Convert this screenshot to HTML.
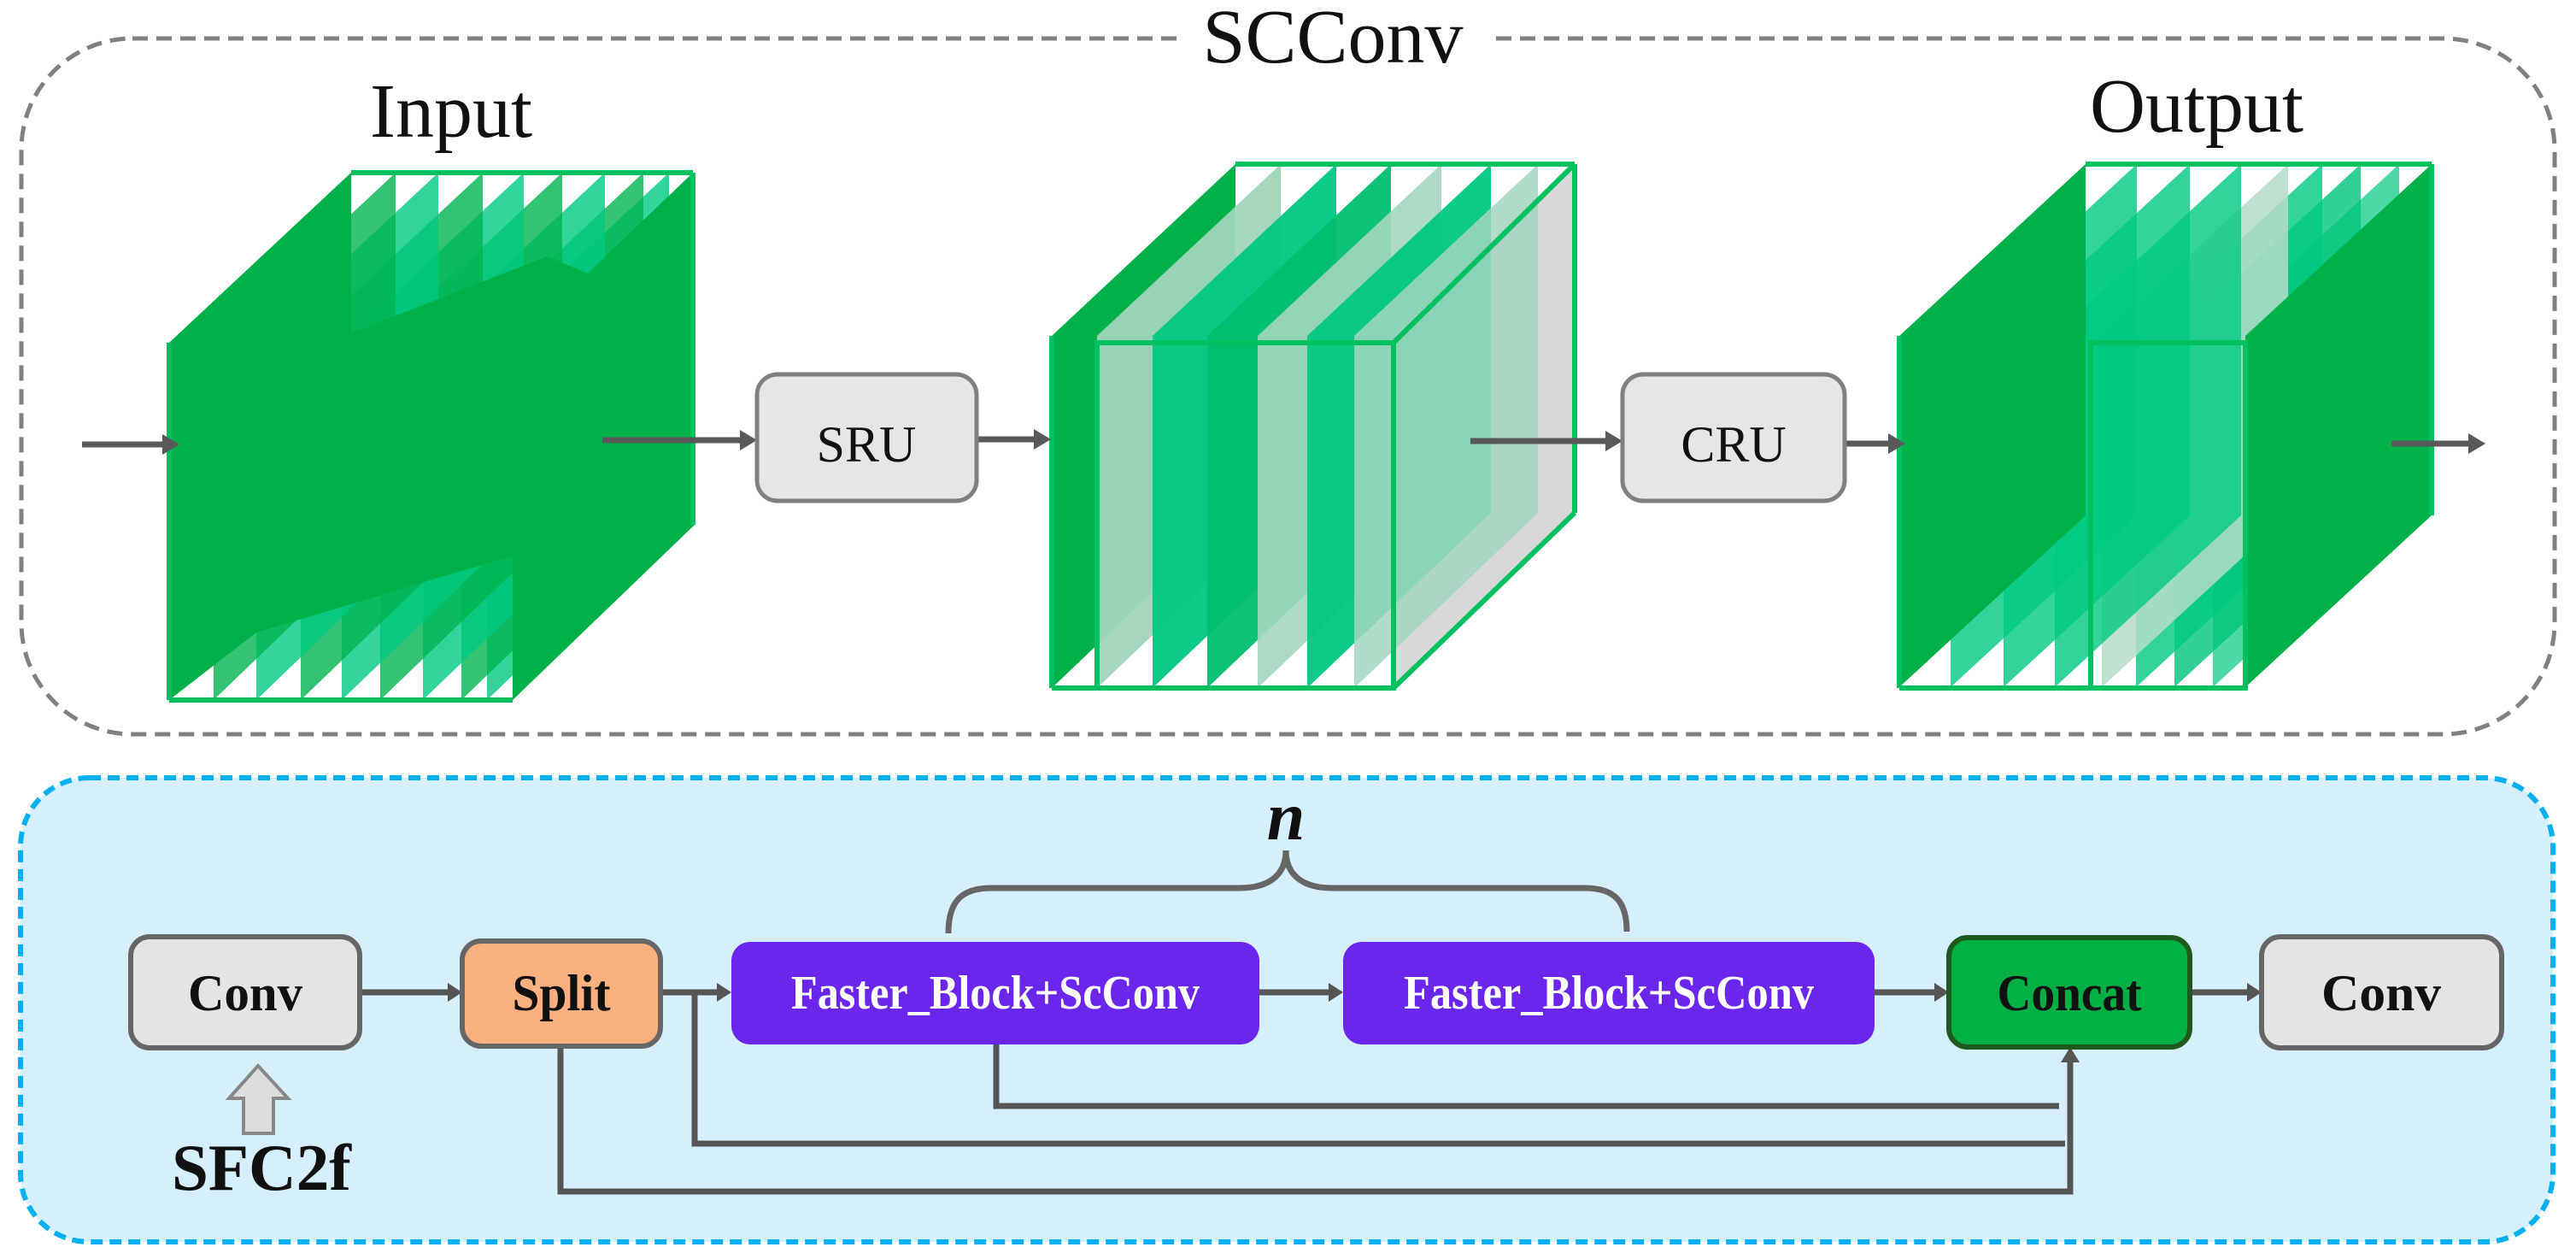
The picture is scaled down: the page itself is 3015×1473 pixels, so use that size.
<!DOCTYPE html>
<html><head><meta charset="utf-8"><style>html,body{margin:0;padding:0;background:#fff}svg{display:block}</style></head>
<body>
<svg width="3015" height="1473" viewBox="0 0 3015 1473" xmlns="http://www.w3.org/2000/svg">
<defs>
<polygon id="s1" points="0,199 213,0 213,412 0,617"/>
<polygon id="s2" points="0,201 215,0 215,408 0,613"/>
<polygon id="s3" points="0,201 218,0 218,411 0,612"/>
</defs>
<rect width="3015" height="1473" fill="#fff"/>
<rect x="25" y="45" width="2965" height="814" rx="130" fill="none" stroke="#808080" stroke-width="5" stroke-dasharray="18 10"/>
<rect x="1383" y="25" width="360" height="40" fill="#fff"/>
<text x="1560" y="73" font-family="Liberation Serif, serif" font-size="90" text-anchor="middle" fill="#111">SCConv</text>
<text x="528" y="160" font-family="Liberation Serif, serif" font-size="90" text-anchor="middle" fill="#111">Input</text>
<text x="2571" y="154" font-family="Liberation Serif, serif" font-size="90" text-anchor="middle" fill="#111">Output</text>

<g>
<use href="#s1" x="600" y="202" fill="#00b14a"/>
<use href="#s1" x="570" y="202" fill="#00c97f" opacity="0.8"/>
<use href="#s1" x="540" y="202" fill="#00b450" opacity="0.8"/>
<use href="#s1" x="495" y="202" fill="#00c97f" opacity="0.8"/>
<use href="#s1" x="445" y="202" fill="#00b450" opacity="0.8"/>
<use href="#s1" x="400" y="202" fill="#00c97f" opacity="0.8"/>
<use href="#s1" x="352" y="202" fill="#00b450" opacity="0.8"/>
<use href="#s1" x="300" y="202" fill="#00c97f" opacity="0.8"/>
<use href="#s1" x="250" y="202" fill="#00b450" opacity="0.8"/>
<use href="#s1" x="198" y="202" fill="#00b14a"/>
<polygon points="198,401 411,202 411,390 640,300 688,320 811,202 811,614 600,819 600,650 300,740 198,819" fill="#00b14a"/>
<g stroke="#00c060" stroke-width="6" fill="none">
<line x1="411" y1="202" x2="811" y2="202"/><line x1="811" y1="202" x2="811" y2="614"/>
<line x1="198" y1="819" x2="600" y2="819"/><line x1="198" y1="401" x2="198" y2="819"/>
</g>
</g>

<g>
<use href="#s2" x="1631" y="192" fill="#d8d8d8"/>
<use href="#s2" x="1231" y="192" fill="#00b14a"/>
<use href="#s2" x="1284" y="192" fill="#9fd5bb" opacity="0.95"/>
<use href="#s2" x="1349" y="192" fill="#00c77f" opacity="0.95"/>
<use href="#s2" x="1413" y="192" fill="#00bf6e" opacity="0.95"/>
<use href="#s2" x="1472" y="192" fill="#a3d6bf" opacity="0.9"/>
<use href="#s2" x="1530" y="192" fill="#00c77f" opacity="0.95"/>
<use href="#s2" x="1585" y="192" fill="#a3d6bf" opacity="0.85"/>
<g stroke="#00c060" stroke-width="6" fill="none">
<rect x="1284" y="401" width="347" height="404"/>
<line x1="1446" y1="192" x2="1843" y2="192"/><line x1="1843" y1="192" x2="1843" y2="600"/>
<line x1="1631" y1="401" x2="1843" y2="192"/><line x1="1631" y1="805" x2="1843" y2="600"/>
<line x1="1231" y1="805" x2="1631" y2="805"/><line x1="1231" y1="393" x2="1231" y2="805"/>
</g>
</g>

<g>
<use href="#s3" x="2590" y="192" fill="#00c97f" opacity="0.7"/>
<use href="#s3" x="2545" y="192" fill="#00c47a" opacity="0.8"/>
<use href="#s3" x="2500" y="192" fill="#00c97f" opacity="0.8"/>
<use href="#s3" x="2460" y="192" fill="#b5dcc8" opacity="0.85"/>
<use href="#s3" x="2405" y="192" fill="#00c97f" opacity="0.8"/>
<use href="#s3" x="2345" y="192" fill="#00c97f" opacity="0.8"/>
<use href="#s3" x="2283" y="192" fill="#00c97f" opacity="0.8"/>
<use href="#s3" x="2223" y="192" fill="#00b14a"/>
<use href="#s3" x="2628" y="192" fill="#00b14a"/>
<g stroke="#00c060" stroke-width="6" fill="none">
<rect x="2447" y="401" width="181" height="404"/>
<line x1="2441" y1="192" x2="2846" y2="192"/><line x1="2846" y1="192" x2="2846" y2="603"/>
<line x1="2223" y1="805" x2="2628" y2="805"/><line x1="2223" y1="393" x2="2223" y2="805"/>
</g>
</g>

<g stroke="#595959" stroke-width="7">
<line x1="96" y1="520" x2="195" y2="520"/>
<line x1="705" y1="515" x2="870" y2="515"/>
<line x1="1143" y1="514" x2="1215" y2="514"/>
<line x1="1721" y1="516" x2="1883" y2="516"/>
<line x1="2159" y1="519" x2="2214" y2="519"/>
<line x1="2799" y1="519" x2="2893" y2="519"/>
</g>
<g fill="#595959">
<polygon points="210,520 190,508 190,532"/>
<polygon points="886,515 866,503 866,527"/>
<polygon points="1230,514 1210,502 1210,526"/>
<polygon points="1899,516 1879,504 1879,528"/>
<polygon points="2230,519 2210,507 2210,531"/>
<polygon points="2909,519 2889,507 2889,531"/>
</g>
<rect x="886" y="438" width="257" height="148" rx="24" fill="#e6e6e6" stroke="#808080" stroke-width="5"/>
<text x="1014" y="540" font-family="Liberation Serif, serif" font-size="60" text-anchor="middle" fill="#111">SRU</text>
<rect x="1899" y="438" width="260" height="148" rx="24" fill="#e6e6e6" stroke="#808080" stroke-width="5"/>
<text x="2029" y="540" font-family="Liberation Serif, serif" font-size="60" text-anchor="middle" fill="#111">CRU</text>

<rect x="24" y="910" width="2964" height="543" rx="80" fill="#d6effc" stroke="#00b0f0" stroke-width="6" stroke-dasharray="14 8"/>

<path d="M1110,1092 C1110,1055 1125,1039 1160,1039 L1450,1039 C1490,1039 1505,1020 1505,995 C1505,1020 1520,1039 1560,1039 L1855,1039 C1890,1039 1904,1055 1904,1090" fill="none" stroke="#666" stroke-width="7"/>
<text x="1505" y="982" font-family="Liberation Serif, serif" font-size="80" font-weight="bold" font-style="italic" text-anchor="middle" fill="#111">n</text>

<g stroke="#555" stroke-width="7" fill="none">
<line x1="421" y1="1161" x2="528" y2="1161"/>
<line x1="773" y1="1161" x2="843" y2="1161"/>
<line x1="1474" y1="1161" x2="1558" y2="1161"/>
<line x1="2194" y1="1161" x2="2267" y2="1161"/>
<line x1="2563" y1="1161" x2="2633" y2="1161"/>
<polyline points="813,1161 813,1338 2417,1338"/>
<polyline points="656,1224 656,1394 2423,1394 2423,1240"/>
<polyline points="1166,1222 1166,1294 2410,1294"/>
</g>
<g fill="#555">
<polygon points="541,1161 524,1150 524,1172"/>
<polygon points="856,1161 839,1150 839,1172"/>
<polygon points="1572,1161 1555,1150 1555,1172"/>
<polygon points="2281,1161 2264,1150 2264,1172"/>
<polygon points="2647,1161 2630,1150 2630,1172"/>
<polygon points="2423,1225 2412,1243 2434,1243"/>
</g>

<rect x="153" y="1096" width="268" height="130" rx="22" fill="#e4e4e4" stroke="#666" stroke-width="6"/>
<text x="287" y="1182" font-family="Liberation Serif, serif" font-size="60" font-weight="bold" text-anchor="middle" textLength="134" lengthAdjust="spacingAndGlyphs" fill="#111">Conv</text>
<rect x="541" y="1101" width="232" height="123" rx="22" fill="#fbb07f" stroke="#666" stroke-width="6"/>
<text x="657" y="1182" font-family="Liberation Serif, serif" font-size="60" font-weight="bold" text-anchor="middle" textLength="115" lengthAdjust="spacingAndGlyphs" fill="#111">Split</text>
<rect x="856" y="1102" width="618" height="120" rx="22" fill="#6a26ea"/>
<text x="1165" y="1180" font-family="Liberation Serif, serif" font-size="56" font-weight="bold" text-anchor="middle" textLength="478" lengthAdjust="spacingAndGlyphs" fill="#fff">Faster_Block+ScConv</text>
<rect x="1572" y="1102" width="622" height="120" rx="22" fill="#6a26ea"/>
<text x="1883" y="1180" font-family="Liberation Serif, serif" font-size="56" font-weight="bold" text-anchor="middle" textLength="480" lengthAdjust="spacingAndGlyphs" fill="#fff">Faster_Block+ScConv</text>
<rect x="2281" y="1097" width="282" height="128" rx="22" fill="#00b045" stroke="#1e5a1e" stroke-width="6"/>
<text x="2422" y="1182" font-family="Liberation Serif, serif" font-size="60" font-weight="bold" text-anchor="middle" textLength="169" lengthAdjust="spacingAndGlyphs" fill="#111">Concat</text>
<rect x="2647" y="1096" width="281" height="130" rx="22" fill="#e4e4e4" stroke="#666" stroke-width="6"/>
<text x="2787" y="1182" font-family="Liberation Serif, serif" font-size="60" font-weight="bold" text-anchor="middle" textLength="140" lengthAdjust="spacingAndGlyphs" fill="#111">Conv</text>

<polygon points="302,1247 337,1285 320,1285 320,1326 285,1326 285,1285 268,1285" fill="#dddddd" stroke="#888" stroke-width="4"/>
<text x="306" y="1392" font-family="Liberation Serif, serif" font-size="77" font-weight="bold" text-anchor="middle" textLength="210" lengthAdjust="spacingAndGlyphs" fill="#111">SFC2f</text>
</svg>
</body></html>
